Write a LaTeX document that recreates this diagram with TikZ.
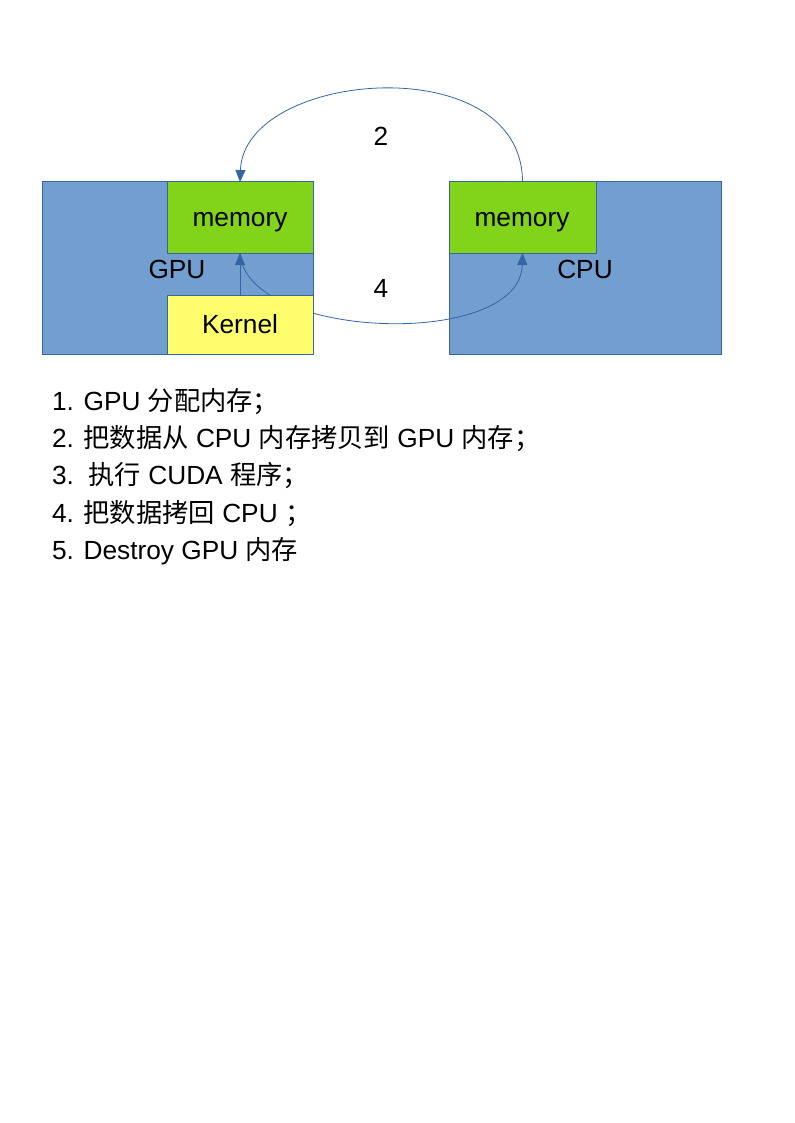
\documentclass[tikz,border=0pt]{standalone}
\usepackage{fontspec}
\setmainfont{Liberation Sans}
\newfontfamily\cjk{Noto Sans CJK SC}
\usetikzlibrary{arrows.meta}

\definecolor{lineblue}{HTML}{3465A4}
\definecolor{boxblue}{HTML}{729FCF}
\definecolor{memgreen}{HTML}{81D41A}
\definecolor{kernyellow}{HTML}{FFFF6D}

\begin{document}
\begin{tikzpicture}[x=0.75pt,y=-0.75pt]
    \tikzset{every node/.style={font=\fontsize{19.7}{24}\selectfont, inner sep=0pt, outer sep=0pt},
        unitbox/.style={draw=lineblue, line width=0.75pt, anchor=north west},
        conn/.style={draw=lineblue, line width=0.6pt, -{Triangle[length=9pt,width=7.5pt]}},
        boxlabel/.style={anchor=base},
        listline/.style={anchor=base west}}
    \useasboundingbox (0,0) rectangle (794,1123);

    % the two processors
    \node[unitbox, fill=boxblue, minimum width=271*0.75pt, minimum height=172*0.75pt] (gpu) at (42,182) {};
    \node[unitbox, fill=boxblue, minimum width=272*0.75pt, minimum height=172*0.75pt] (cpu) at (449,182) {};
    \node[unitbox, fill=memgreen, minimum width=146*0.75pt, minimum height=71*0.75pt] (gpumem) at (167,182) {};
    \node[unitbox, fill=memgreen, minimum width=147*0.75pt, minimum height=71*0.75pt] (cpumem) at (449,182) {};
    \node[boxlabel] (gpumemlabel) at (240,227) {memory};
    \node[boxlabel] (cpumemlabel) at (522,227) {memory};
    \node[boxlabel] (gpulabel) at (177,278) {GPU};
    \node[boxlabel] (cpulabel) at (585,278) {CPU};

    % step 4 runs behind the kernel
    \draw[conn] (gpumem.south) .. controls +(5,87) and +(-2,97) .. (cpumem.south);
    \node[unitbox, fill=kernyellow, minimum width=146*0.75pt, minimum height=59*0.75pt] (kernel) at (167,295) {};
    \node[boxlabel] (kernellabel) at (240,333) {Kernel};
    \draw[conn] (kernel.north) -- (gpumem.south);

    % step 2
    \draw[conn] (cpumem.north) .. controls +(0,-135) and +(4,-112) .. (gpumem.north);
    \node[boxlabel] (two) at (381,146) {2};
    \node[boxlabel] (four) at (381,297) {4};

    % steps
    \node[listline] (s1) at (52,410) {1. GPU {\cjk 分配内存；}};
    \node[listline] (s2) at (52,447) {2. {\cjk 把数据从} CPU {\cjk 内存拷贝到} GPU {\cjk 内存；}};
    \node[listline] (s3) at (52,484) {3.\ \ {\cjk 执行} CUDA {\cjk 程序；}};
    \node[listline] (s4) at (52,522) {4. {\cjk 把数据拷回} CPU {\cjk ；}};
    \node[listline] (s5) at (52,559) {5. Destroy GPU {\cjk 内存}};
\end{tikzpicture}
\end{document}
